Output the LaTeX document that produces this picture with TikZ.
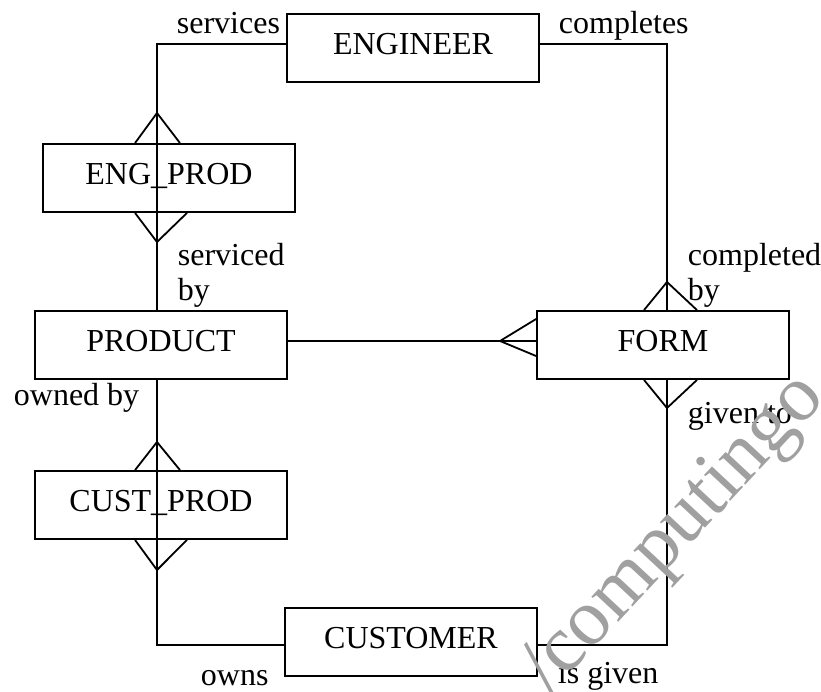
\documentclass[tikz,border=0pt]{standalone}
\usepackage{fontspec}
\setmainfont{Liberation Serif}
\definecolor{wmgray}{RGB}{160,160,160}
\begin{document}
\begin{tikzpicture}[x=1pt, y=-1pt, line width=1.8pt,
  entity/.style={draw, minimum width=252pt, minimum height=68pt, inner sep=0pt,
    text height=22pt, text depth=10pt, font=\fontsize{32}{35}\selectfont},
  role/.style={inner sep=0pt, anchor=base west, font=\fontsize{32}{35}\selectfont},
  wm/.style={inner sep=0pt, rotate=47, text=wmgray, font=\fontsize{80}{84}\selectfont}]
\useasboundingbox (0,0) rectangle (821,691);
\begin{scope}
\clip (0,0) rectangle (821,691);

% entities
\node[entity] (eng)      at (413,48)  {ENGINEER};
\node[entity] (engprod)  at (169,178) {ENG\_PROD};
\node[entity] (prod)     at (161,345) {PRODUCT};
\node[entity] (custprod) at (161,505) {CUST\_PROD};
\node[entity] (form)     at (663,345) {FORM};
\node[entity] (cust)     at (411,642) {CUSTOMER};

% corner points of the relationship lines
\coordinate (tl) at (157,44);
\coordinate (tr) at (667,44);
\coordinate (bl) at (157,645);
\coordinate (br) at (667,645);
\coordinate (fapex) at (500,341);

% relationship lines
\draw (eng.west |- tl) -- (tl) -- (prod.north -| tl);
\draw (prod.south -| bl) -- (bl) -- (cust.west |- bl);
\draw (eng.east |- tr) -- (tr) -- (form.north -| tr);
\draw (form.south -| br) -- (br) -- (cust.east |- br);
\draw (prod.east |- fapex) -- (form.west |- fapex);

% crow's feet
\draw (engprod.north -| 135,0) -- (157,113) -- (engprod.north -| 180,0);
\draw (engprod.south -| 135,0) -- (157,242) -- (engprod.south -| 187,0);
\draw (custprod.north -| 135,0) -- (157,442) -- (custprod.north -| 180,0);
\draw (custprod.south -| 135,0) -- (157,570) -- (custprod.south -| 187,0);
\draw (form.north -| 644,0) -- (667,282) -- (form.north -| 697,0);
\draw (form.south -| 644,0) -- (667,408) -- (form.south -| 697,0);
\draw (form.west |- 0,319) -- (fapex) -- (form.west |- 0,356);

% role names
\node[role] (r1)  at (176,33)  {services};
\node[role] (r2)  at (558,33)  {completes};
\node[role] (r3)  at (177,265) {serviced};
\node[role] (r3b) at (177,300) {by};
\node[role] (r4)  at (687,265) {completed};
\node[role] (r4b) at (687,300) {by};
\node[role] (r5)  at (13,405)  {owned by};
\node[role] (r6)  at (687,423) {given to};
\node[role] (r7)  at (200,685) {owns};
\node[role] (r8)  at (557,683) {is given};

% watermark
\node[wm] (wmark) at (689,520) {/computingo\_};
\end{scope}
\end{tikzpicture}
\end{document}
